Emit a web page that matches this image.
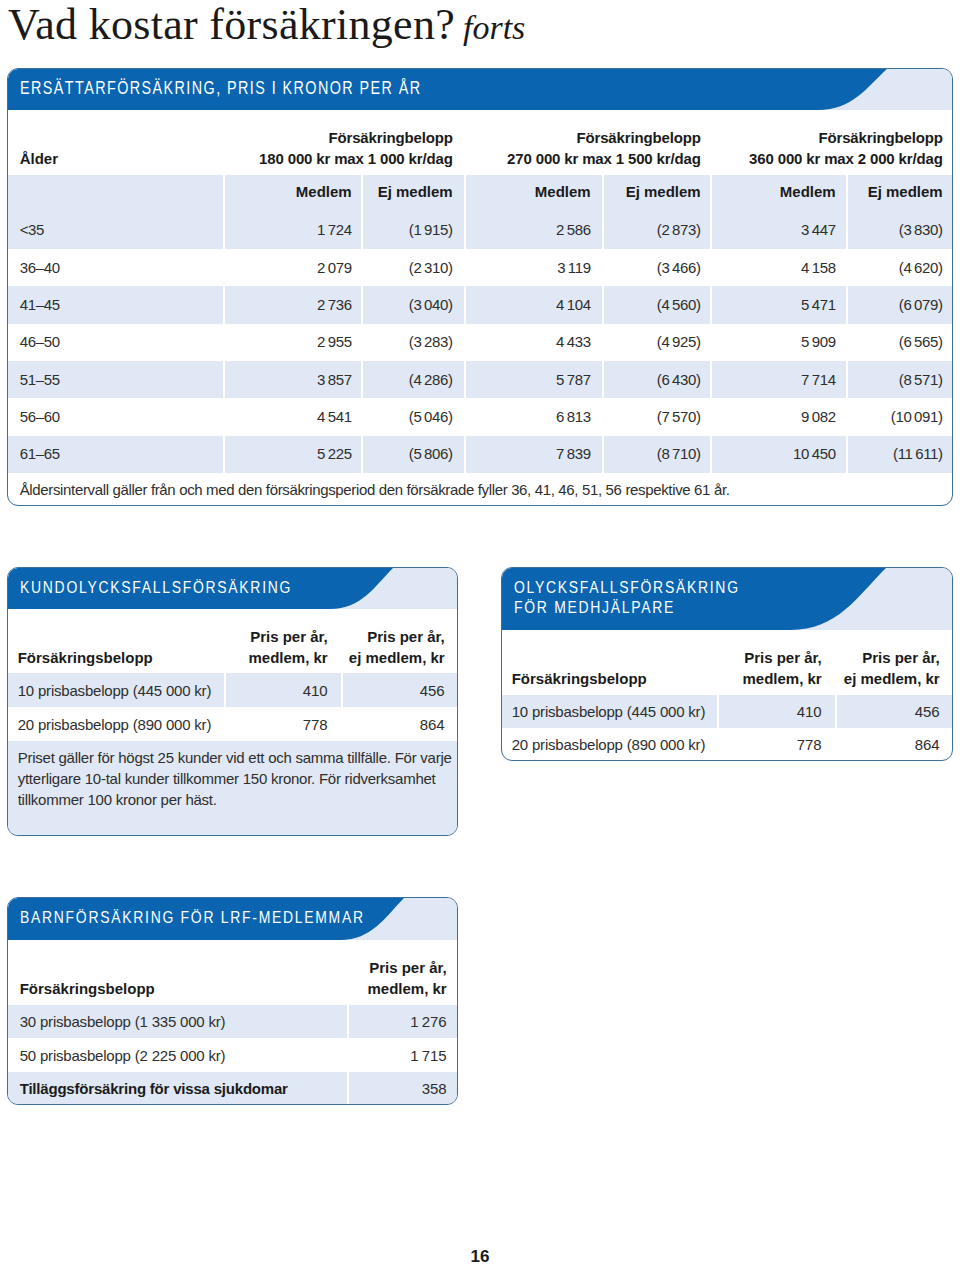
<!DOCTYPE html>
<html lang="sv"><head><meta charset="utf-8">
<script src="https://cdn.jsdelivr.net/npm/chart.js@4.4.0/dist/chart.umd.min.js"></script>
<style>
html,body{margin:0;padding:0;background:#fff}
body{width:960px;height:1266px;position:relative;overflow:hidden;font-family:"Liberation Sans",Arial,sans-serif;color:#2b2b2b}
.box{position:absolute;border:1.3px solid #3f6e9a;border-radius:11px;overflow:hidden;box-sizing:border-box;background:#fff}
.t{position:absolute;white-space:nowrap}
.r{position:absolute}
</style></head><body>
<script>
// ---------- DATA ----------
const pageTitle = 'Vad kostar försäkringen?';
const pageTitleSuffix = 'forts';
const pageNumber = '16';

const t1Title = 'ERSÄTTARFÖRSÄKRING, PRIS I KRONOR PER ÅR';
const t1AgeLabel = 'Ålder';
const t1AmountLine1 = ['Försäkringbelopp', 'Försäkringbelopp', 'Försäkringbelopp'];
const t1AmountLine2 = ['180 000 kr max 1 000 kr/dag', '270 000 kr max 1 500 kr/dag', '360 000 kr max 2 000 kr/dag'];
const t1SubHeaders = ['Medlem', 'Ej medlem'];
const ageGroups = ['<35', '36–40', '41–45', '46–50', '51–55', '56–60', '61–65'];
const member180 = [1724, 2079, 2736, 2955, 3857, 4541, 5225];
const nonMember180 = [1915, 2310, 3040, 3283, 4286, 5046, 5806];
const member270 = [2586, 3119, 4104, 4433, 5787, 6813, 7839];
const nonMember270 = [2873, 3466, 4560, 4925, 6430, 7570, 8710];
const member360 = [3447, 4158, 5471, 5909, 7714, 9082, 10450];
const nonMember360 = [3830, 4620, 6079, 6565, 8571, 10091, 11611];
const t1Note = 'Åldersintervall gäller från och med den försäkringsperiod den försäkrade fyller 36, 41, 46, 51, 56 respektive 61 år.';

const t2Title = ['KUNDOLYCKSFALLSFÖRSÄKRING'];
const t2Head = ['Försäkringsbelopp', ['Pris per år,', 'medlem, kr'], ['Pris per år,', 'ej medlem, kr']];
const t2Labels = ['10 prisbasbelopp (445 000 kr)', '20 prisbasbelopp (890 000 kr)'];
const t2Member = [410, 778];
const t2NonMember = [456, 864];
const t2Note = ['Priset gäller för högst 25 kunder vid ett och samma tillfälle. För varje', 'ytterligare 10-tal kunder tillkommer 150 kronor. För ridverksamhet', 'tillkommer 100 kronor per häst.'];

const t3Title = ['OLYCKSFALLSFÖRSÄKRING', 'FÖR MEDHJÄLPARE'];
const t3Head = ['Försäkringsbelopp', ['Pris per år,', 'medlem, kr'], ['Pris per år,', 'ej medlem, kr']];
const t3Labels = ['10 prisbasbelopp (445 000 kr)', '20 prisbasbelopp (890 000 kr)'];
const t3Member = [410, 778];
const t3NonMember = [456, 864];

const t4Title = ['BARNFÖRSÄKRING FÖR LRF-MEDLEMMAR'];
const t4Head = ['Försäkringsbelopp', ['Pris per år,', 'medlem, kr']];
const t4Labels = ['30 prisbasbelopp (1 335 000 kr)', '50 prisbasbelopp (2 225 000 kr)', 'Tilläggsförsäkring för vissa sjukdomar'];
const t4Bold = [false, false, true];
const t4Member = [1276, 1715, 358];

// ---------- STYLE ----------
const BLUE = '#0a64b0', LIGHT = '#dfe8f4', TEXT = '#2e2e2e', HEAD = '#1b1b1b';
const SANS = '"Liberation Sans", Arial, sans-serif';
const SERIF = '"Liberation Serif", "Times New Roman", serif';
function hasFont(name){
  const c = document.createElement('canvas').getContext('2d');
  c.font = '20px monospace'; const a = c.measureText('abcdefghijklmnop WWW').width;
  c.font = '20px "' + name + '", monospace'; const b = c.measureText('abcdefghijklmnop WWW').width;
  return Math.abs(a - b) > 0.5;
}
const NARROW_OK = hasFont('Liberation Sans Narrow');
const NARROW = NARROW_OK ? '"Liberation Sans Narrow", sans-serif' : SANS;

const fmt = n => String(n).replace(/\B(?=(\d{3})+(?!\d))/g, '\u2009');
const fmtP = n => '(' + fmt(n) + ')';

function txt(parent, x, cy, s, o = {}){
  const d = document.createElement('div');
  d.className = 't';
  const size = o.size || 15, lh = o.lh || Math.round(size * 1.4);
  d.textContent = s;
  d.style.fontSize = size + 'px';
  d.style.lineHeight = lh + 'px';
  d.style.top = (cy - lh / 2) + 'px';
  d.style.fontFamily = o.narrow ? NARROW : (o.font || SANS);
  d.style.fontWeight = o.bold ? '700' : '400';
  if (o.italic) d.style.fontStyle = 'italic';
  d.style.color = o.color || (o.bold ? HEAD : TEXT);
  if (o.ls !== undefined) d.style.letterSpacing = o.ls + 'px';
  let sx = 1;
  if (o.narrow && !NARROW_OK) sx = 0.82;
  if (o.align === 'right'){
    d.style.left = (x - 800) + 'px'; d.style.width = '800px'; d.style.textAlign = 'right';
    if (o.ls) d.style.marginRight = (-o.ls) + 'px';
    if (sx !== 1){ d.style.transform = 'scaleX(' + sx + ')'; d.style.transformOrigin = '100% 50%'; }
  } else if (o.align === 'center'){
    d.style.left = (x - 400) + 'px'; d.style.width = '800px'; d.style.textAlign = 'center';
  } else {
    d.style.left = x + 'px';
    if (sx !== 1){ d.style.transform = 'scaleX(' + sx + ')'; d.style.transformOrigin = '0 50%'; }
  }
  parent.appendChild(d);
  return d;
}
function rect(parent, x, y, w, h, bg){
  const d = document.createElement('div');
  d.className = 'r';
  Object.assign(d.style, {left: x + 'px', top: y + 'px', width: w + 'px', height: h + 'px', background: bg});
  parent.appendChild(d);
  return d;
}
function makeBox(x, y, w, h, headH, curveTop, curveEnd, titleLines, titleOpt){
  const b = document.createElement('div');
  b.className = 'box';
  Object.assign(b.style, {left: x + 'px', top: y + 'px', width: w + 'px', height: h + 'px'});
  document.body.appendChild(b);
  const inner = document.createElement('div');
  Object.assign(inner.style, {position: 'absolute', left: (-x - 1.3) + 'px', top: (-y - 1.3) + 'px', width: '960px', height: '1266px'});
  b.appendChild(inner);
  rect(inner, x, y, w, headH, LIGHT);
  const ns = 'http://www.w3.org/2000/svg';
  const svg = document.createElementNS(ns, 'svg');
  svg.setAttribute('width', w); svg.setAttribute('height', headH);
  Object.assign(svg.style, {position: 'absolute', left: x + 'px', top: y + 'px'});
  const p = document.createElementNS(ns, 'path');
  const T = curveTop - x, E = curveEnd - x, H = headH, D = T - E;
  p.setAttribute('d', `M0,0 L${T},0 C${T - D * 0.3},${H * 0.45} ${T - D * 0.5},${H} ${E},${H} L0,${H} Z`);
  p.setAttribute('fill', BLUE);
  svg.appendChild(p);
  inner.appendChild(svg);
  titleLines.forEach((s, i) => txt(inner, x + 13, titleOpt.cy[i], s, {size: titleOpt.size, narrow: true, color: '#ffffff', ls: titleOpt.ls}));
  return inner;
}
function vsep(parent, xs, y, h){ xs.forEach(sx => rect(parent, sx - 1, y, 2, h, '#ffffff')); }

// ---------- TITLE ----------
txt(document.body, 8, 24.5, pageTitle, {size: 44, lh: 49, font: SERIF, color: '#1a1a1a', ls: 0.3});
txt(document.body, 463, 27.5, pageTitleSuffix, {size: 34, lh: 38, font: SERIF, italic: true, color: '#1a1a1a'});

// ---------- TABLE 1 ----------
{
  const L = makeBox(7, 68, 946, 438, 42, 888, 818, [t1Title], {size: 17.5, ls: 1.75, cy: [89]});
  const seps = [224, 362, 465, 603, 711, 847];
  const rights = [352, 453, 591, 701, 836, 943];
  txt(L, 20, 159, t1AgeLabel, {bold: true});
  [453, 701, 943].forEach((rx, i) => {
    txt(L, rx, 138, t1AmountLine1[i], {bold: true, align: 'right', ls: -0.15});
    txt(L, rx, 159, t1AmountLine2[i], {bold: true, align: 'right', ls: -0.15});
  });
  rect(L, 7, 175, 946, 37, LIGHT);
  vsep(L, seps, 175, 37);
  rights.forEach((rx, i) => txt(L, rx, 192, t1SubHeaders[i % 2], {bold: true, align: 'right'}));
  const cols = [member180, nonMember180, member270, nonMember270, member360, nonMember360];
  const rowH = 37.3;
  ageGroups.forEach((a, r) => {
    const top = 212 + r * rowH;
    if (r % 2 === 0){ rect(L, 7, top, 946, rowH + 0.2, LIGHT); vsep(L, seps, top, rowH + 0.2); }
    const cy = top + rowH / 2 - 0.5;
    txt(L, 20, cy, a, {size: 15, ls: -0.35});
    cols.forEach((c, ci) => txt(L, rights[ci], cy, ci % 2 ? fmtP(c[r]) : fmt(c[r]), {size: 15, ls: -0.35, align: 'right'}));
  });
  txt(L, 20, 490, t1Note, {size: 15, ls: -0.35});
}

// ---------- TABLE 2 ----------
{
  const L = makeBox(7, 567, 451, 269, 42, 394, 330, t2Title, {size: 17, ls: 2.1, cy: [588]});
  txt(L, 18, 658, t2Head[0], {bold: true});
  t2Head[1].forEach((s, i) => txt(L, 328, 637 + i * 21, s, {bold: true, align: 'right'}));
  t2Head[2].forEach((s, i) => txt(L, 445, 637 + i * 21, s, {bold: true, align: 'right'}));
  rect(L, 7, 673, 451, 34, LIGHT); vsep(L, [225, 342], 673, 34);
  t2Labels.forEach((s, r) => {
    const cy = 691 + r * 33.5;
    txt(L, 18, cy, s, {ls: -0.2});
    txt(L, 328, cy, fmt(t2Member[r]), {align: 'right'});
    txt(L, 445, cy, fmt(t2NonMember[r]), {align: 'right'});
  });
  rect(L, 7, 741, 451, 100, LIGHT);
  t2Note.forEach((s, i) => txt(L, 18, 758 + i * 21, s, {ls: -0.25}));
}

// ---------- TABLE 3 ----------
{
  const L = makeBox(501, 567, 452, 194, 63, 887, 790, t3Title, {size: 17, ls: 2.1, cy: [588, 608]});
  txt(L, 512, 679, t3Head[0], {bold: true});
  t3Head[1].forEach((s, i) => txt(L, 822, 658 + i * 21, s, {bold: true, align: 'right'}));
  t3Head[2].forEach((s, i) => txt(L, 940, 658 + i * 21, s, {bold: true, align: 'right'}));
  rect(L, 501, 695, 452, 33, LIGHT); vsep(L, [718, 836], 695, 33);
  t3Labels.forEach((s, r) => {
    const cy = 712 + r * 33;
    txt(L, 512, cy, s, {ls: -0.2});
    txt(L, 822, cy, fmt(t3Member[r]), {align: 'right'});
    txt(L, 940, cy, fmt(t3NonMember[r]), {align: 'right'});
  });
}

// ---------- TABLE 4 ----------
{
  const L = makeBox(7, 897, 451, 208, 43, 405, 340, t4Title, {size: 17, ls: 2.1, cy: [918]});
  txt(L, 20, 989, t4Head[0], {bold: true});
  t4Head[1].forEach((s, i) => txt(L, 447, 968 + i * 21, s, {bold: true, align: 'right'}));
  [1005, 1072].forEach(top => { rect(L, 7, top, 451, 33.5, LIGHT); vsep(L, [348], top, 33.5); });
  t4Labels.forEach((s, r) => {
    const cy = 1022 + r * 33.5;
    txt(L, 20, cy, s, {bold: t4Bold[r], ls: -0.2});
    txt(L, 447, cy, fmt(t4Member[r]), {align: 'right'});
  });
}

// ---------- PAGE NUMBER ----------
txt(document.body, 480, 1257, pageNumber, {bold: true, size: 17, align: 'center'});
</script>
</body></html>
